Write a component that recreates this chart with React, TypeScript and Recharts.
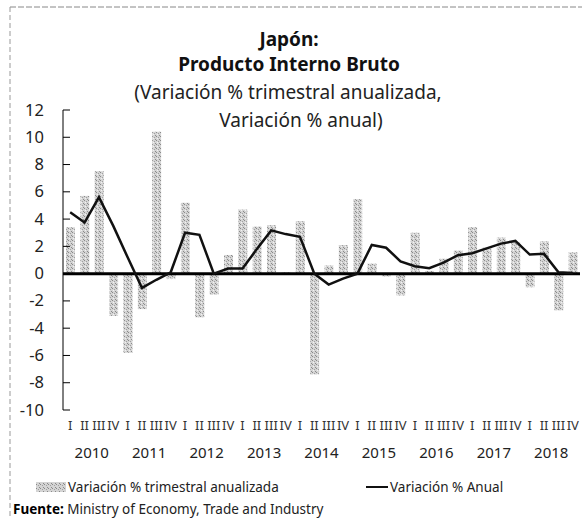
import React from "react";
import { ComposedChart, Bar, Line, XAxis, YAxis, ReferenceLine } from "recharts";

const years = ["2010", "2011", "2012", "2013", "2014", "2015", "2016", "2017", "2018"];
const quarterLabels = ["I", "II", "III", "IV"];
const trimestral = [3.4, 5.7, 7.5, -3.1, -5.8, -2.6, 10.4, -0.4, 5.2, -3.2, -1.55, 1.37, 4.7, 3.46, 3.56, 0.1, 3.85, -7.4, 0.6, 2.1, 5.46, 0.73, -0.2, -1.6, 3.0, 0.2, 1.1, 1.7, 3.4, 1.9, 2.65, 2.3, -1.0, 2.37, -2.7, 1.56];
const anual = [4.5, 3.75, 5.6, 3.5, 1.2, -1.05, -0.45, 0.1, 3.0, 2.85, 0.0, 0.37, 0.37, 1.8, 3.17, 2.9, 2.7, 0.0, -0.8, -0.37, 0.0, 2.1, 1.9, 0.9, 0.54, 0.4, 0.8, 1.35, 1.5, 1.85, 2.2, 2.4, 1.4, 1.45, 0.1, 0.05];
const yTicks = [-10, -8, -6, -4, -2, 0, 2, 4, 6, 8, 10, 12];

const data = trimestral.map((v, i) => ({
  idx: i,
  q: quarterLabels[i % 4],
  year: years[Math.floor(i / 4)],
  trimestral: v,
  anual: anual[i],
}));

const W = 582;
const H = 519;
const PLOT_LEFT = 63;
const PLOT_RIGHT = 580;
const PLOT_TOP = 110;
const PLOT_BOTTOM = 410;
const YW = 50;
const XH = 60;
const BAND = (PLOT_RIGHT - PLOT_LEFT) / data.length;
const FONT = "'Noto Sans', sans-serif";

const YTick = (props: any) => {
  const { y, payload } = props;
  return (
    <g>
      <line x1={PLOT_LEFT} x2={PLOT_LEFT + 7} y1={y} y2={y} stroke="#000" strokeWidth={1} />
      <text x={44} y={y} dy={5.5} textAnchor="end" fontSize={16.5} fill="#222" fontFamily={FONT}>
        {payload.value}
      </text>
    </g>
  );
};

const XTick = (props: any) => {
  const { x, y, index } = props;
  const d = data[index];
  return (
    <g>
      <text x={x} y={y + 12} textAnchor="middle" fontSize={13} fill="#333" fontFamily={FONT}>
        {d.q}
      </text>
      {index % 4 === 1 ? (
        <text x={x + BAND / 2} y={y + 40} textAnchor="middle" fontSize={15} fill="#222" fontFamily={FONT}>
          {d.year}
        </text>
      ) : null}
    </g>
  );
};

export default function App() {
  return (
    <div style={{ position: "fixed", left: 0, top: 0, width: W, height: H, background: "#fff" }}>
      <ComposedChart
        width={W}
        height={H}
        data={data}
        margin={{ top: PLOT_TOP, right: W - PLOT_RIGHT, bottom: H - PLOT_BOTTOM - XH, left: PLOT_LEFT - YW }}
        barCategoryGap={0}
      >
        <defs>
          <pattern id="stipple" width="4" height="4" patternUnits="userSpaceOnUse">
            <rect width="4" height="4" fill="#d4d4d4" />
            <rect x="0" y="0" width="1" height="1" fill="#8a8a8a" />
            <rect x="2" y="1" width="1" height="1" fill="#a0a0a0" />
            <rect x="1" y="2" width="1" height="1" fill="#f2f2f2" />
            <rect x="3" y="3" width="1" height="1" fill="#8a8a8a" />
          </pattern>
        </defs>
        <XAxis
          dataKey="idx"
          type="category"
          axisLine={false}
          tickLine={false}
          interval={0}
          height={XH}
          tick={<XTick />}
        />
        <YAxis
          domain={[-10, 12]}
          ticks={yTicks}
          interval={0}
          width={YW}
          axisLine={{ stroke: "#000", strokeWidth: 1 }}
          tickLine={false}
          tick={<YTick />}
        />
        <Bar dataKey="trimestral" fill="url(#stipple)" barSize={9} isAnimationActive={false} />
        <ReferenceLine y={0} stroke="#000" strokeWidth={3} />
        <Line
          type="linear"
          dataKey="anual"
          stroke="#111"
          strokeWidth={2.5}
          dot={false}
          isAnimationActive={false}
        />
      </ComposedChart>
      <svg width={W} height={H} style={{ position: "absolute", left: 0, top: 0, pointerEvents: "none" }}>
        <defs>
          <pattern id="stipple2" width="4" height="4" patternUnits="userSpaceOnUse">
            <rect width="4" height="4" fill="#d4d4d4" />
            <rect x="0" y="0" width="1" height="1" fill="#8a8a8a" />
            <rect x="2" y="1" width="1" height="1" fill="#a0a0a0" />
            <rect x="3" y="3" width="1" height="1" fill="#8a8a8a" />
          </pattern>
        </defs>
        <line x1={10} x2={W} y1={7} y2={7} stroke="#888" strokeWidth={1} strokeDasharray="6 2" />
        <line x1={10} x2={10} y1={7} y2={H} stroke="#999" strokeWidth={1} strokeDasharray="5 3" />
        <g fontFamily={FONT} fill="#111">
          <text x={289} y={46} textAnchor="middle" fontSize={19} fontWeight="bold">Japón:</text>
          <text x={289} y={71} textAnchor="middle" fontSize={19} fontWeight="bold">Producto Interno Bruto</text>
          <text x={288} y={99} textAnchor="middle" fontSize={19} fill="#222">(Variación % trimestral anualizada,</text>
          <text x={301} y={127} textAnchor="middle" fontSize={19} fill="#222">Variación % anual)</text>
          <rect x={36} y={482} width={30} height={10} fill="url(#stipple2)" />
          <text x={68} y={492} fontSize={13.5} fill="#222">Variación % trimestral anualizada</text>
          <line x1={366} x2={388} y1={487} y2={487} stroke="#111" strokeWidth={2} />
          <text x={390} y={492} fontSize={13.5} fill="#222">Variación % Anual</text>
          <text x={13} y={514} fontSize={13.5} fill="#222">
            <tspan fontWeight="bold" fill="#000">Fuente:</tspan> Ministry of Economy, Trade and Industry
          </text>
        </g>
      </svg>
    </div>
  );
}
